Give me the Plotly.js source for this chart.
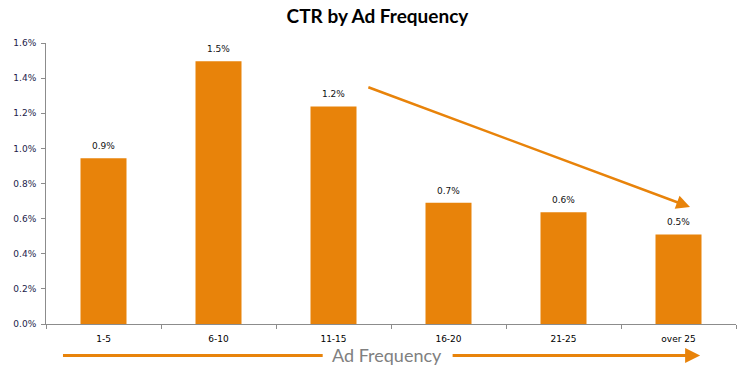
<!DOCTYPE html>
<html>
<head>
<meta charset="utf-8">
<script src="https://cdn.plot.ly/plotly-3.0.1.min.js"></script>
<style>html,body{margin:0;padding:0;background:#fff;}#chart{width:746px;height:374px;}</style>
</head>
<body>
<div id="chart"></div>
<script>
// Data
const categories = ["1-5", "6-10", "11-15", "16-20", "21-25", "over 25"];
const ctrValues = [0.00944, 0.01496, 0.01239, 0.0069, 0.00636, 0.0051];
const ctrLabels = ["0.9%", "1.5%", "1.2%", "0.7%", "0.6%", "0.5%"];
const yTickVals = [0, 0.002, 0.004, 0.006, 0.008, 0.010, 0.012, 0.014, 0.016];
const yTickText = ["0.0%", "0.2%", "0.4%", "0.6%", "0.8%", "1.0%", "1.2%", "1.4%", "1.6%"];

const orange = "#E8830A";
const tickFont = {family: "DejaVu Sans, Verdana, sans-serif", size: 9};

const trace = {
  type: "bar",
  x: categories,
  y: ctrValues,
  marker: {color: orange, line: {width: 0}},
  hoverinfo: "none"
};

const valueAnnotations = categories.map((c, i) => ({
  x: c, y: ctrValues[i], xref: "x", yref: "y",
  text: ctrLabels[i], showarrow: false, yshift: 12,
  font: {family: tickFont.family, size: 9, color: "#111111"}
}));

const layout = {
  width: 746, height: 374,
  margin: {l: 46, r: 10, t: 43, b: 50},
  paper_bgcolor: "#ffffff", plot_bgcolor: "#ffffff",
  showlegend: false,
  bargap: 0.6,
  title: {
    text: "<b>CTR by Ad Frequency</b>",
    font: {family: "Lato, 'Open Sans', sans-serif", size: 19, color: "#000000"},
    x: 0.506, xanchor: "center", y: 0.955, yanchor: "middle"
  },
  xaxis: {
    type: "category",
    showline: true, linecolor: "#8c8c8c", linewidth: 1,
    ticks: "outside", tickson: "boundaries", ticklen: 4, tickcolor: "#8c8c8c",
    tickfont: {family: tickFont.family, size: 9, color: "#000000"},
    ticklabelstandoff: 6,
    showgrid: false, zeroline: false, fixedrange: true
  },
  yaxis: {
    range: [0, 0.016],
    tickvals: yTickVals, ticktext: yTickText,
    showline: true, linecolor: "#8c8c8c", linewidth: 1,
    ticks: "outside", ticklen: 4, tickcolor: "#8c8c8c",
    tickfont: {family: tickFont.family, size: 9, color: "#1c1c4a"},
    ticklabelstandoff: 3,
    showgrid: false, zeroline: false, fixedrange: true
  },
  shapes: [
    {type: "line", xref: "paper", yref: "paper",
     x0: 0.0246, x1: 0.401, y0: -0.112, y1: -0.112,
     line: {color: orange, width: 3}}
  ],
  annotations: valueAnnotations.concat([
    {x: 5.1, y: 0.00666, xref: "x", yref: "y",
     ax: 2.29, ay: 0.01351, axref: "x", ayref: "y",
     showarrow: true, arrowhead: 2, arrowsize: 1.1, arrowwidth: 2.5,
     arrowcolor: orange, text: ""},
    {x: 0.948, y: -0.112, xref: "paper", yref: "paper",
     ax: -249, ay: 0, showarrow: true, arrowhead: 2, arrowsize: 1,
     arrowwidth: 3, arrowcolor: orange, text: ""},
    {x: 0.494, y: -0.112, xref: "paper", yref: "paper",
     text: "Ad Frequency", showarrow: false,
     font: {family: "Lato, 'Open Sans', sans-serif", size: 18, color: "#808080"},
     xanchor: "center", yanchor: "middle"}
  ])
};

Plotly.newPlot("chart", [trace], layout, {displayModeBar: false, staticPlot: true});
</script>
</body>
</html>
